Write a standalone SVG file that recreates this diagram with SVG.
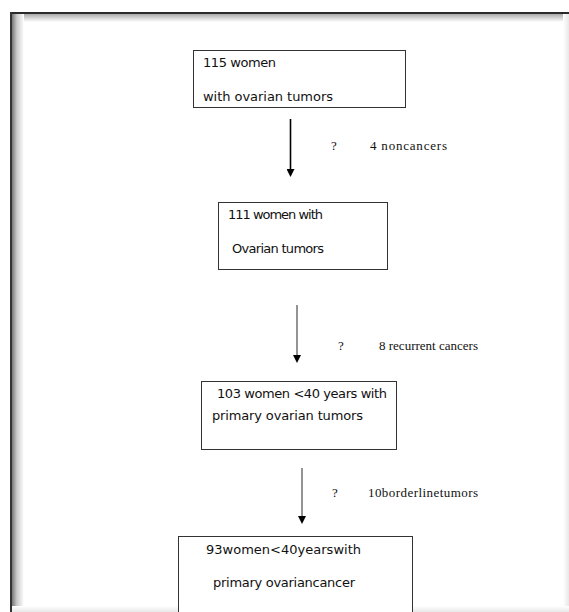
<svg xmlns="http://www.w3.org/2000/svg" width="569" height="612" viewBox="0 0 569 612">
<defs>
<linearGradient id="gl" x1="0" y1="0" x2="1" y2="0"><stop offset="0" stop-color="#777"/><stop offset="0.4" stop-color="#c8c8c8"/><stop offset="1" stop-color="#fff"/></linearGradient>
<linearGradient id="gt" x1="0" y1="0" x2="0" y2="1"><stop offset="0" stop-color="#aaa"/><stop offset="1" stop-color="#fff"/></linearGradient>
<linearGradient id="gr" x1="0" y1="0" x2="1" y2="0"><stop offset="0" stop-color="#fff"/><stop offset="1" stop-color="#e8e8e8"/></linearGradient>
<linearGradient id="gb" x1="0" y1="0" x2="0" y2="1"><stop offset="0" stop-color="#fff"/><stop offset="1" stop-color="#e8e8e8"/></linearGradient>
<marker id="ah" viewBox="0 0 8 8" refX="4" refY="4" markerWidth="8" markerHeight="8" markerUnits="userSpaceOnUse" orient="auto"><path d="M0,0 L8,4 L0,8 Z" fill="#000"/></marker>
</defs>
<style>
.box{fill:#fff;stroke:#333;stroke-width:1}
.t{font-family:"DejaVu Sans",sans-serif;font-size:13px;fill:#111}
.s{font-family:"Liberation Serif",serif;font-size:13px;fill:#111}
.a1{stroke:#000;stroke-width:1.6;fill:none}
.a2{stroke:#666;stroke-width:1.4;fill:none}
</style>
<rect x="0" y="0" width="569" height="612" fill="#fff"/>
<g id="frame">
<rect x="12" y="14" width="557" height="8" fill="url(#gt)"/>
<rect x="12" y="14" width="12" height="598" fill="url(#gl)"/>
<rect x="563" y="14" width="6" height="598" fill="url(#gr)"/>
<rect x="12" y="606" width="557" height="6" fill="url(#gb)"/>
<rect x="10" y="12" width="559" height="2" fill="#2a2a2a"/>
<rect x="10" y="12" width="2" height="600" fill="#333"/>
</g>
<g id="connectors">
<line class="a1" x1="290.5" y1="119" x2="290.5" y2="173" marker-end="url(#ah)"/>
<line class="a2" x1="297" y1="305" x2="297" y2="359" marker-end="url(#ah)"/>
<line class="a2" x1="302" y1="468" x2="302" y2="520" marker-end="url(#ah)"/>
<text class="s" x="331" y="150">?</text>
<text class="s" x="370" y="150" textLength="77">4 noncancers</text>
<text class="s" x="338" y="350">?</text>
<text class="s" x="379" y="350" textLength="99">8 recurrent cancers</text>
<text class="s" x="332" y="497">?</text>
<text class="s" x="368" y="497" textLength="110">10borderlinetumors</text>
</g>
<g id="n1">
<rect class="box" x="193.5" y="50.5" width="212" height="57"/>
<text class="t" x="203" y="67" textLength="73">115 women</text>
<text class="t" x="203" y="101" textLength="130">with ovarian tumors</text>
</g>
<g id="n2">
<rect class="box" x="218.5" y="202.5" width="169" height="67"/>
<text class="t" x="228" y="219" textLength="95">111 women with</text>
<text class="t" x="232" y="253" textLength="92">Ovarian tumors</text>
</g>
<g id="n3">
<rect class="box" x="201.5" y="381.5" width="195" height="68"/>
<text class="t" x="217" y="398" textLength="170">103 women &lt;40 years with</text>
<text class="t" x="212" y="420" textLength="151">primary ovarian tumors</text>
</g>
<g id="n4">
<rect class="box" x="178.5" y="536.5" width="234" height="80"/>
<text class="t" x="206" y="554" textLength="155">93women&lt;40yearswith</text>
<text class="t" x="213" y="587" textLength="142">primary ovariancancer</text>
</g>
</svg>
